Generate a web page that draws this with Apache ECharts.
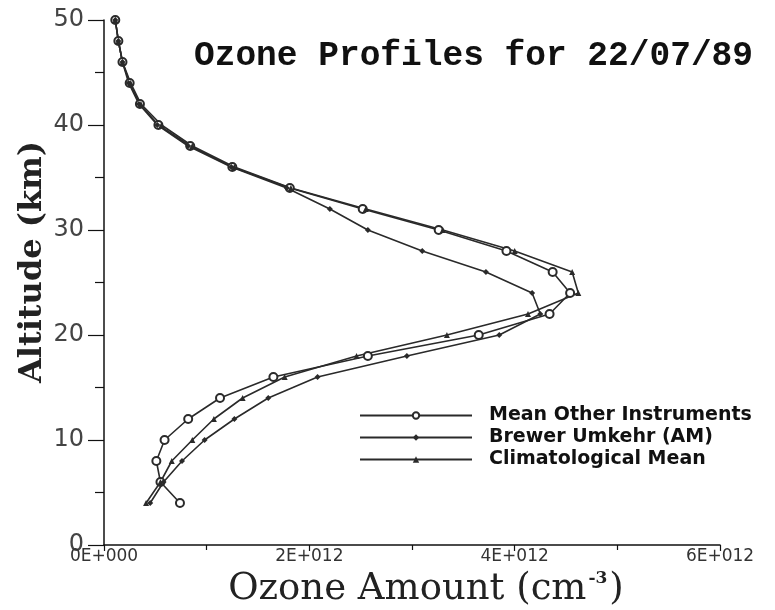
<!DOCTYPE html>
<html>
<head>
<meta charset="utf-8">
<script src="https://cdn.jsdelivr.net/npm/echarts@6/dist/echarts.min.js"></script>
<style>
  html, body { margin: 0; padding: 0; background: #fff; }
  #chart { width: 775px; height: 610px; }
</style>
</head>
<body>
<div id="chart"></div>
<script>
// altitudes (km), 2 km steps
var altitudes = [4, 6, 8, 10, 12, 14, 16, 18, 20, 22, 24, 26, 28, 30, 32, 34, 36, 38, 40, 42, 44, 46, 48, 50];

// ozone number density, units of 1E+012 cm^-3
var meanOther = [0.74, 0.55, 0.51, 0.59, 0.82, 1.13, 1.65, 2.57, 3.65, 4.34, 4.54, 4.37, 3.92, 3.26, 2.52, 1.81, 1.25, 0.84, 0.53, 0.35, 0.25, 0.18, 0.14, 0.11];
var brewerAM = [0.45, 0.58, 0.76, 0.98, 1.27, 1.60, 2.08, 2.95, 3.85, 4.25, 4.17, 3.72, 3.10, 2.57, 2.20, 1.78, 1.24, 0.82, 0.52, 0.34, 0.24, 0.18, 0.14, 0.11];
var climMean = [0.41, 0.55, 0.66, 0.86, 1.07, 1.35, 1.76, 2.46, 3.34, 4.13, 4.62, 4.56, 4.00, 3.30, 2.55, 1.82, 1.27, 0.86, 0.56, 0.36, 0.26, 0.18, 0.14, 0.11];

function pairs(vals) {
  return vals.map(function (v, i) { return [v * 1e12, altitudes[i]]; });
}

var chart = echarts.init(document.getElementById("chart"));

var lineCol = "#2a2a2a";

chart.setOption({
  animation: false,
  backgroundColor: "#fff",
  title: {
    text: "Ozone Profiles for 22/07/89",
    left: 189,
    top: 34,
    textStyle: {
      fontFamily: "Liberation Mono",
      fontWeight: "bold",
      fontSize: 34.5,
      color: "#111"
    }
  },
  legend: {
    orient: "vertical",
    left: 354,
    top: 401,
    itemWidth: 112,
    itemHeight: 8,
    itemGap: 3,
    textStyle: {
      fontFamily: "DejaVu Sans",
      fontWeight: "bold",
      fontSize: 19,
      color: "#111",
      padding: [0, 0, 0, 12]
    },
    data: ["Mean Other Instruments", "Brewer Umkehr (AM)", "Climatological Mean"]
  },
  graphic: [
    {
      type: "text",
      x: 33,
      y: 262,
      rotation: Math.PI / 2,
      style: {
        text: "Altitude (km)",
        font: "bold 32px 'DejaVu Serif'",
        fill: "#222",
        align: "center",
        verticalAlign: "middle"
      }
    },
    {
      type: "text",
      x: 426,
      y: 589,
      style: {
        text: "Ozone Amount (cm{s|-3})",
        font: "37px 'DejaVu Serif'",
        fill: "#222",
        align: "center",
        verticalAlign: "middle",
        rich: {
          s: { font: "bold 17px 'DejaVu Serif'", fill: "#222", verticalAlign: "top", padding: [0, 2, 20, 2] }
        }
      }
    }
  ],
  grid: {
    left: 104,
    right: 55,
    top: 20,
    bottom: 65
  },
  xAxis: {
    type: "value",
    min: 0,
    max: 6e12,
    interval: 2e12,
    axisLine: { lineStyle: { color: "#111", width: 1.5 } },
    axisTick: { show: true, inside: false, length: 6, lineStyle: { color: "#111", width: 1.2 } },
    minorTick: { show: true, splitNumber: 2, length: 5, lineStyle: { color: "#111", width: 1.2 } },
    splitLine: { show: false },
    axisLabel: {
      fontFamily: "DejaVu Sans",
      fontSize: 17,
      color: "#333",
      margin: 3,
      formatter: function (v) {
        var k = Math.round(v / 1e12);
        return k === 0 ? "0E+000" : k + "E+012";
      }
    }
  },
  yAxis: {
    type: "value",
    min: 0,
    max: 50,
    interval: 10,
    axisLine: { show: true, lineStyle: { color: "#111", width: 1.5 } },
    axisTick: { show: true, inside: false, length: 16, lineStyle: { color: "#111", width: 1.2 } },
    minorTick: { show: true, splitNumber: 2, length: 9, lineStyle: { color: "#111", width: 1.2 } },
    splitLine: { show: false },
    axisLabel: {
      fontFamily: "DejaVu Sans",
      fontSize: 24,
      color: "#444",
      margin: 20
    }
  },
  series: [
    {
      name: "Mean Other Instruments",
      type: "line",
      data: pairs(meanOther),
      symbol: "emptyCircle",
      symbolSize: 8,
      itemStyle: { color: lineCol, borderWidth: 1.5 },
      lineStyle: { color: lineCol, width: 1.6 },
      z: 3
    },
    {
      name: "Brewer Umkehr (AM)",
      type: "line",
      data: pairs(brewerAM),
      symbol: "diamond",
      symbolSize: 6,
      itemStyle: { color: lineCol },
      lineStyle: { color: lineCol, width: 1.6 }
    },
    {
      name: "Climatological Mean",
      type: "line",
      data: pairs(climMean),
      symbol: "triangle",
      symbolSize: 6,
      itemStyle: { color: lineCol },
      lineStyle: { color: lineCol, width: 1.6 }
    }
  ]
});
</script>
</body>
</html>
